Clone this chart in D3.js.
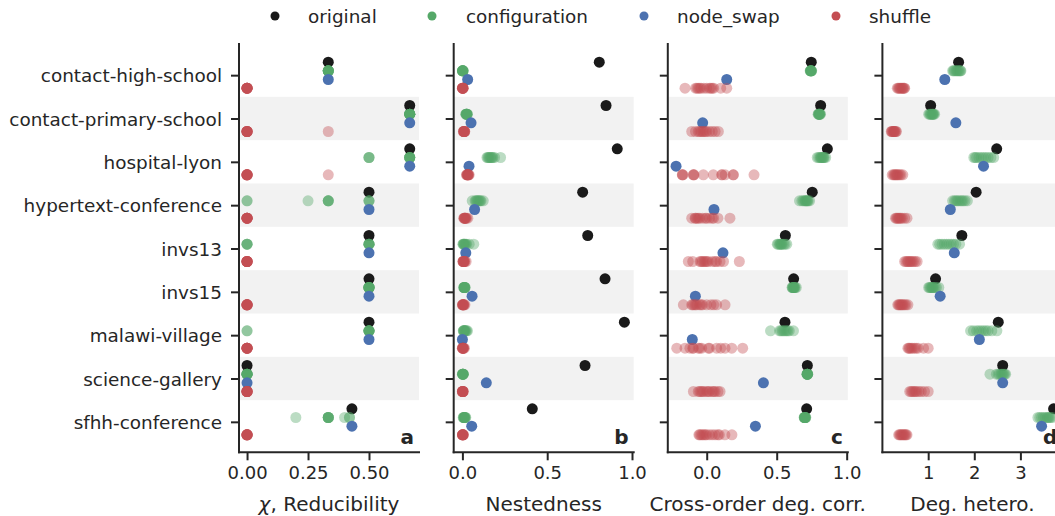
<!DOCTYPE html>
<html><head><meta charset="utf-8">
<script src="https://cdn.jsdelivr.net/npm/d3@7"></script>
<style>
body{margin:0;background:#fff;}
svg{display:block;font-family:"DejaVu Sans",sans-serif;}
</style></head><body>
<svg id="chart" width="1055" height="516"></svg>
<script>
// ---------------- data ----------------
const categories = ["contact-high-school","contact-primary-school","hospital-lyon","hypertext-conference","invs13","invs15","malawi-village","science-gallery","sfhh-conference"];
const seriesNames = ["original","configuration","node_swap","shuffle"];
const seriesColors = ["#1a1a1a","#55a868","#4c72b0","#c44e52"];

// panel a: reducibility
const reducibilityOriginal = [0.333,0.667,0.667,0.5,0.5,0.5,0.5,0,0.43];
const reducibilityNodeSwap = [0.333,0.667,0.667,0.5,0.5,0.5,0.5,0,0.43];
const reducibilityConfiguration = [
  [0.333,0.333,0.333,0.333,0.333,0.333,0.333,0.333,0.333,0.333],
  [0.667,0.667,0.667,0.667,0.667,0.667,0.667,0.667,0.667,0.667],
  [0.5,0.5,0.5,0.667,0.667,0.667,0.667,0.667,0.667,0.667],
  [0,0,0.25,0.333,0.333,0.333,0.333,0.5,0.5,0.5],
  [0,0,0,0,0.5,0.5,0.5,0.5,0.5,0.5],
  [0.5,0.5,0.5,0.5,0.5,0.5,0.5,0.5,0.5,0.5],
  [0,0,0.5,0.5,0.5,0.5,0.5,0.5,0.5,0.5],
  [0,0,0,0,0,0,0,0,0,0],
  [0.2,0.333,0.333,0.333,0.333,0.333,0.333,0.4,0.42,0.42]
];
const reducibilityShuffle = [
  [0,0,0,0,0,0,0,0,0,0],
  [0,0,0,0,0,0,0,0,0,0.333],
  [0,0,0,0,0,0,0,0,0,0.333],
  [0,0,0,0,0,0,0,0,0,0],
  [0,0,0,0,0,0,0,0,0,0],
  [0,0,0,0,0,0,0,0,0,0],
  [0,0,0,0,0,0,0,0,0,0],
  [0,0,0,0,0,0,0,0,0,0],
  [0,0,0,0,0,0,0,0,0,0]
];

// panel b: nestedness
const nestednessOriginal = [0.807,0.847,0.913,0.709,0.739,0.841,0.955,0.723,0.412];
const nestednessNodeSwap = [0.031,0.051,0.039,0.072,0.02,0.057,0.0,0.141,0.055];
const nestednessConfiguration = [
  [0.0,0.0,0.002,0.003,0.004,0.0,0.001,0.002,0.003,0.005],
  [0.02,0.021,0.022,0.024,0.025,0.025,0.026,0.027,0.028,0.03],
  [0.145,0.15,0.155,0.16,0.165,0.17,0.175,0.18,0.19,0.225],
  [0.058,0.075,0.08,0.085,0.09,0.095,0.1,0.105,0.11,0.123],
  [0.003,0.005,0.008,0.01,0.012,0.015,0.02,0.025,0.04,0.067],
  [0.008,0.009,0.01,0.01,0.012,0.012,0.013,0.014,0.015,0.016],
  [0.005,0.006,0.008,0.01,0.012,0.014,0.016,0.02,0.025,0.03],
  [0.0,0.001,0.002,0.002,0.003,0.003,0.004,0.004,0.005,0.006],
  [0.005,0.007,0.008,0.01,0.011,0.012,0.013,0.015,0.017,0.02]
];
const nestednessShuffle = [
  [0.0,0.0,0.001,0.001,0.002,0.002,0.003,0.003,0.004,0.005],
  [0.006,0.007,0.008,0.009,0.01,0.01,0.011,0.012,0.013,0.014],
  [0.024,0.026,0.028,0.03,0.031,0.032,0.033,0.035,0.037,0.04],
  [0.008,0.01,0.012,0.013,0.015,0.016,0.018,0.02,0.025,0.032],
  [0.003,0.004,0.005,0.006,0.007,0.008,0.01,0.012,0.015,0.022],
  [0.0,0.001,0.002,0.003,0.004,0.005,0.006,0.008,0.01,0.015],
  [0.0,0.0,0.001,0.002,0.003,0.004,0.005,0.006,0.008,0.012],
  [0.0,0.0,0.001,0.001,0.002,0.002,0.003,0.003,0.004,0.005],
  [0.0,0.0,0.001,0.001,0.002,0.002,0.003,0.004,0.005,0.006]
];

// panel c: cross-order degree correlation
const crossOrderOriginal = [0.747,0.814,0.862,0.754,0.562,0.621,0.559,0.719,0.714];
const crossOrderNodeSwap = [0.143,-0.029,-0.219,0.052,0.116,-0.081,-0.103,0.405,0.348];
const crossOrderConfiguration = [
  [0.739,0.741,0.742,0.743,0.744,0.745,0.746,0.747,0.748,0.75],
  [0.796,0.798,0.8,0.802,0.804,0.805,0.806,0.808,0.81,0.813],
  [0.79,0.8,0.81,0.815,0.82,0.825,0.83,0.835,0.84,0.85],
  [0.663,0.68,0.69,0.7,0.705,0.71,0.715,0.72,0.725,0.735],
  [0.504,0.51,0.52,0.525,0.53,0.535,0.54,0.55,0.56,0.572],
  [0.61,0.612,0.615,0.618,0.62,0.622,0.625,0.628,0.632,0.64],
  [0.456,0.52,0.53,0.54,0.55,0.56,0.57,0.58,0.59,0.62],
  [0.716,0.717,0.718,0.718,0.719,0.719,0.72,0.72,0.721,0.722],
  [0.696,0.698,0.699,0.7,0.701,0.702,0.703,0.704,0.706,0.708]
];
const crossOrderShuffle = [
  [-0.155,-0.08,-0.07,-0.06,-0.05,-0.04,-0.02,0.0,0.02,0.03,0.04,0.05,0.1,0.143],
  [-0.107,-0.08,-0.06,-0.05,-0.04,-0.03,-0.02,-0.01,0.0,0.02,0.04,0.06,0.083],
  [-0.174,-0.17,-0.174,-0.095,-0.095,-0.09,-0.024,0.047,0.107,0.11,0.131,0.19,0.19,0.338],
  [-0.107,-0.083,-0.08,-0.07,-0.06,-0.05,-0.03,-0.01,0.0,0.02,0.04,0.05,0.08,0.166],
  [-0.131,-0.1,-0.048,-0.04,-0.03,-0.02,-0.01,0.0,0.01,0.04,0.06,0.07,0.095,0.12,0.233],
  [-0.167,-0.107,-0.1,-0.09,-0.08,-0.07,-0.05,-0.04,-0.03,0.0,0.03,0.05,0.071,0.131],
  [-0.214,-0.155,-0.12,-0.1,-0.095,-0.06,-0.05,-0.036,0.012,0.02,0.071,0.1,0.131,0.179,0.257],
  [-0.095,-0.06,-0.05,-0.04,-0.03,-0.02,0.0,0.01,0.02,0.04,0.05,0.06,0.08,0.095],
  [-0.056,-0.05,-0.04,-0.03,-0.02,-0.01,0.0,0.02,0.04,0.06,0.08,0.09,0.13,0.18]
];

// panel d: degree heterogeneity
const heteroOriginal = [1.66,1.054,2.486,2.04,1.73,1.16,2.52,2.616,3.72];
const heteroNodeSwap = [1.36,1.6,2.2,1.48,1.566,1.26,2.11,2.616,3.46];
const heteroConfiguration = [
  [1.53,1.55,1.57,1.6,1.62,1.64,1.66,1.68,1.7,1.71],
  [1.01,1.03,1.05,1.06,1.08,1.09,1.1,1.11,1.12,1.14],
  [1.99,2.02,2.05,2.1,2.15,2.2,2.25,2.3,2.36,2.42],
  [1.53,1.57,1.6,1.63,1.66,1.7,1.73,1.76,1.8,1.85],
  [1.21,1.25,1.3,1.35,1.4,1.45,1.5,1.55,1.6,1.68],
  [1.01,1.03,1.05,1.07,1.09,1.1,1.12,1.15,1.18,1.23],
  [1.92,1.98,2.05,2.1,2.15,2.2,2.25,2.3,2.38,2.49],
  [2.34,2.48,2.52,2.55,2.58,2.6,2.62,2.64,2.66,2.68],
  [3.38,3.42,3.46,3.5,3.54,3.58,3.6,3.62,3.65,3.7]
];
const heteroShuffle = [
  [0.33,0.35,0.37,0.39,0.41,0.43,0.45,0.46,0.48,0.49],
  [0.2,0.21,0.22,0.24,0.25,0.26,0.27,0.28,0.3,0.31],
  [0.22,0.25,0.27,0.29,0.31,0.33,0.35,0.38,0.41,0.45],
  [0.29,0.31,0.33,0.35,0.37,0.39,0.41,0.44,0.49,0.54],
  [0.49,0.52,0.55,0.57,0.6,0.62,0.65,0.68,0.72,0.76],
  [0.34,0.36,0.38,0.4,0.42,0.44,0.46,0.49,0.52,0.56],
  [0.56,0.58,0.6,0.63,0.66,0.7,0.74,0.78,0.9,1.0],
  [0.6,0.63,0.66,0.69,0.72,0.75,0.8,0.85,0.92,1.0],
  [0.36,0.38,0.4,0.42,0.44,0.46,0.48,0.5,0.52,0.54]
];

const panelLetters = ["a","b","c","d"];
const axisTitles = ["Reducibility","Nestedness","Cross-order deg. corr.","Deg. hetero."];
const tickValuesA = [0,0.25,0.5], tickLabelsA = ["0.00","0.25","0.50"];
const tickValuesB = [0,0.5,1], tickLabelsB = ["0.0","0.5","1.0"];
const tickValuesC = [0,0.5,1], tickLabelsC = ["0.0","0.5","1.0"];
const tickValuesD = [1,2,3], tickLabelsD = ["1","2","3"];

// ---------------- layout ----------------
const ink = "#262626";
const panelLeft = [239, 453.7, 667.8, 882.4];
const panelW = 180;
const plotTop = 44, plotBottom = 452.3;
const panels = [
  {orig: reducibilityOriginal, conf: reducibilityConfiguration, ns: reducibilityNodeSwap, shuf: reducibilityShuffle, domain: [-0.033, 0.705], tv: tickValuesA, tl: tickLabelsA, italicPrefix: true},
  {orig: nestednessOriginal, conf: nestednessConfiguration, ns: nestednessNodeSwap, shuf: nestednessShuffle, domain: [-0.0513, 1.010], tv: tickValuesB, tl: tickLabelsB},
  {orig: crossOrderOriginal, conf: crossOrderConfiguration, ns: crossOrderNodeSwap, shuf: crossOrderShuffle, domain: [-0.278, 1.008], tv: tickValuesC, tl: tickLabelsC},
  {orig: heteroOriginal, conf: heteroConfiguration, ns: heteroNodeSwap, shuf: heteroShuffle, domain: [0.007, 3.911], tv: tickValuesD, tl: tickLabelsD}
];

const svg = d3.select("#chart");
const y = d3.scaleBand().domain(categories).range([53.5, 443.5]).paddingInner(0).paddingOuter(0);
const step = y.step();
const yc = c => y(c) + step / 2;
const hue = d3.scaleBand().domain(seriesNames).range([-0.4 * step, 0.4 * step]);

panels.forEach((p, pi) => {
  const x0 = panelLeft[pi];
  const x = d3.scaleLinear().domain(p.domain).range([x0, x0 + panelW]);
  const g = svg.append("g");

  // alternating bands
  g.selectAll("rect.band").data(categories.filter((c, i) => i % 2 === 1)).join("rect")
    .attr("x", x0).attr("width", panelW)
    .attr("y", d => y(d)).attr("height", step)
    .attr("fill", "#f2f2f2");

  // points
  const pts = [];
  categories.forEach((c, i) => {
    pts.push({c, s: 0, v: p.orig[i], a: 1});
    p.conf[i].forEach(v => pts.push({c, s: 1, v, a: 0.4}));
    pts.push({c, s: 2, v: p.ns[i], a: 1});
    p.shuf[i].forEach(v => pts.push({c, s: 3, v, a: 0.4}));
  });
  pts.sort((a, b) => a.s - b.s);
  g.selectAll("circle.pt").data(pts).join("circle")
    .attr("cx", d => x(d.v))
    .attr("cy", d => yc(d.c) + hue(seriesNames[d.s]) + hue.bandwidth() / 2)
    .attr("r", 5.5)
    .attr("fill", d => seriesColors[d.s])
    .attr("fill-opacity", d => d.a);

  // x axis
  const xa = g.append("g").attr("transform", `translate(0,${plotBottom})`)
    .call(d3.axisBottom(x).tickValues(p.tv).tickFormat((d, i) => p.tl[i]).tickSize(8).tickPadding(6).tickSizeOuter(0));
  xa.select(".domain").remove();
  xa.selectAll(".tick line").attr("stroke", ink).attr("stroke-width", 2);
  xa.selectAll(".tick text").attr("fill", ink).attr("font-size", "18px").attr("font-family", "DejaVu Sans");
  g.append("line").attr("x1", x0).attr("x2", x0 + panelW).attr("y1", plotBottom).attr("y2", plotBottom)
    .attr("stroke", ink).attr("stroke-width", 2).attr("stroke-linecap", "square");

  // y axis
  const ya = g.append("g").attr("transform", `translate(${x0},0)`)
    .call(d3.axisLeft(d3.scalePoint().domain(categories).range([yc(categories[0]), yc(categories[categories.length - 1])]))
      .tickSize(8).tickPadding(9).tickSizeOuter(0));
  ya.select(".domain").remove();
  ya.selectAll(".tick line").attr("stroke", ink).attr("stroke-width", 2);
  if (pi === 0) {
    ya.selectAll(".tick text").attr("fill", ink).attr("font-size", "18.4px").attr("font-family", "DejaVu Sans").attr("dy", "0.36em");
  } else {
    ya.selectAll(".tick text").remove();
  }
  g.append("line").attr("x1", x0).attr("x2", x0).attr("y1", plotTop).attr("y2", plotBottom)
    .attr("stroke", ink).attr("stroke-width", 2).attr("stroke-linecap", "square");

  // axis title
  const t = g.append("text").attr("x", x0 + panelW / 2).attr("y", 510.5)
    .attr("text-anchor", "middle").attr("font-size", "20px").attr("fill", ink);
  if (p.italicPrefix) {
    t.append("tspan").attr("font-style", "italic").text("χ");
    t.append("tspan").text(", " + axisTitles[pi]);
  } else {
    t.text(axisTitles[pi]);
  }

  // panel letter
  g.append("text").attr("x", x0 + panelW - 5).attr("y", 444)
    .attr("text-anchor", "end").attr("font-size", "20px").attr("font-weight", "bold").attr("fill", ink)
    .text(panelLetters[pi]);
});

// legend
const legendDotX = [275, 432, 644, 836];
const legendTextX = [308, 466, 677, 869];
const lg = svg.append("g");
seriesNames.forEach((s, i) => {
  lg.append("circle").attr("cx", legendDotX[i]).attr("cy", 16).attr("r", 4.5).attr("fill", seriesColors[i]);
  lg.append("text").attr("x", legendTextX[i]).attr("y", 16).attr("dy", "0.36em")
    .attr("font-size", "18.4px").attr("fill", ink).text(s);
});
</script>
</body></html>
